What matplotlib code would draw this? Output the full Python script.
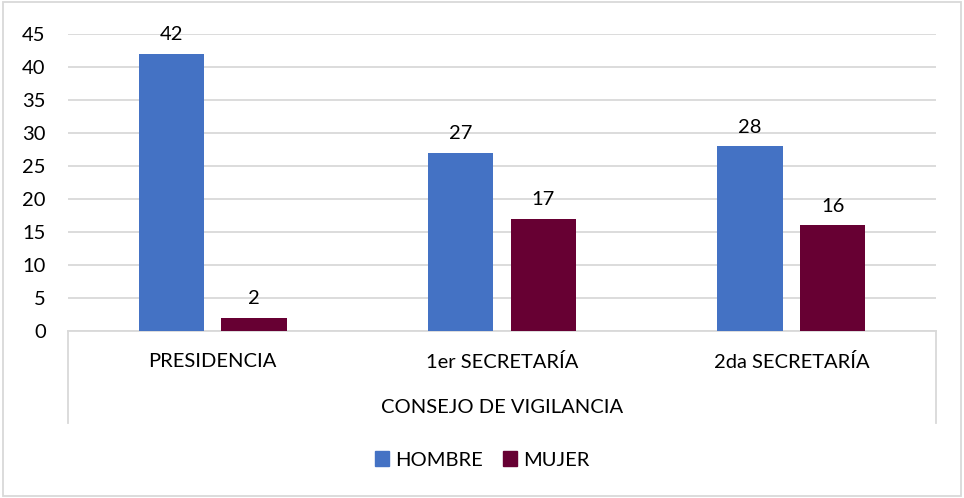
import matplotlib
matplotlib.use("Agg")
import matplotlib.pyplot as plt
import numpy as np
from matplotlib.patches import Patch, Rectangle

plt.rcParams["font.family"] = ["Lato", "DejaVu Sans"]

categories = ["PRESIDENCIA", "1er SECRETARÍA", "2da SECRETARÍA"]
group_label = "CONSEJO DE VIGILANCIA"
series_names = ["HOMBRE", "MUJER"]
hombre = [42, 27, 28]
mujer = [2, 17, 16]
colors = ["#4472C4", "#670033"]
yticks = [0, 5, 10, 15, 20, 25, 30, 35, 40, 45]

fig = plt.figure(figsize=(9.64, 4.98), dpi=100)
ax = fig.add_axes([0.0705, 0.3353, 0.9005, 0.5964])

x = np.arange(len(categories))
bar_w = 0.225
offset = 0.143

b1 = ax.bar(x - offset, hombre, width=bar_w, color=colors[0], zorder=3)
b2 = ax.bar(x + offset, mujer, width=bar_w, color=colors[1], zorder=3)

for bars, vals in ((b1, hombre), (b2, mujer)):
    for rect, v in zip(bars, vals):
        ax.text(rect.get_x() + rect.get_width() / 2, v + 1.6, str(v),
                ha="center", va="bottom", fontsize=14.5, color="#000000")

ax.set_xlim(-0.5, len(categories) - 0.5)
ax.set_ylim(0, 45)
ax.set_yticks(yticks)
ax.tick_params(axis="y", length=0, labelsize=14.5, pad=16)
ax.set_xticks([])
ax.grid(axis="y", color="#d9d9d9", linewidth=1.3, zorder=0)
for side in ("top", "right", "left"):
    ax.spines[side].set_visible(False)
ax.spines["bottom"].set_color("#d9d9d9")
ax.spines["bottom"].set_linewidth(1.3)

# multi-level category axis
for xx in (0, 1):
    ax.plot([xx, xx], [0, -0.31], transform=ax.transAxes, color="#d9d9d9",
            linewidth=1.3, clip_on=False)
trans = ax.get_xaxis_transform()
for i, c in enumerate(categories):
    ax.text(i, -0.104, c, transform=trans, ha="center", va="center", fontsize=14.5)
ax.text(0.5, -0.259, group_label, transform=ax.transAxes, ha="center",
        va="center", fontsize=14.5)

handles = [Patch(color=colors[0]), Patch(color=colors[1])]
fig.legend(handles, series_names, loc="center", bbox_to_anchor=(0.5, 0.0763),
           ncol=2, frameon=False, fontsize=14.5, handlelength=0.7,
           handleheight=0.7, handletextpad=0.3, columnspacing=1.0)

fig.patches.append(Rectangle((0.003, 0.005), 0.994, 0.99, transform=fig.transFigure,
                             fill=False, edgecolor="#d9d9d9", linewidth=1.3))

fig.savefig("out.png", dpi=100)
